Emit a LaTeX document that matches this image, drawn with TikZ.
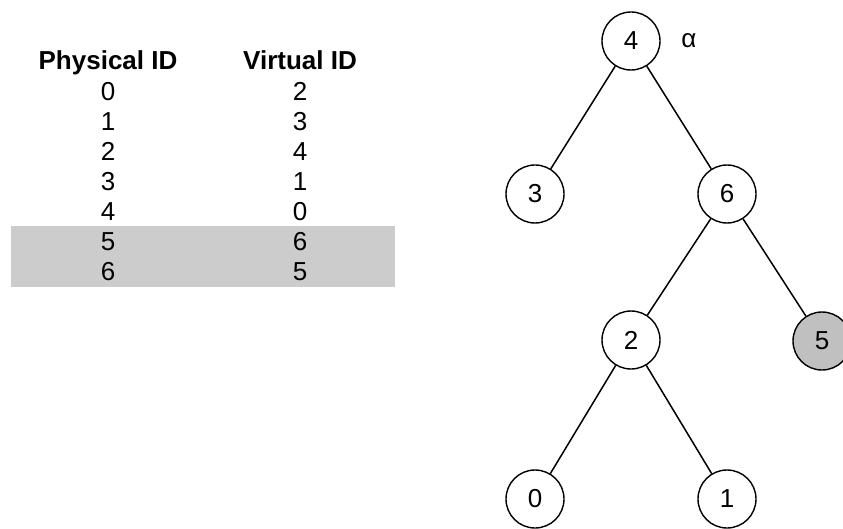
\documentclass[tikz,border=0pt]{standalone}
\usepackage{fontspec}
\setmainfont{Liberation Sans}
\definecolor{bandgray}{HTML}{CCCCCC}
\definecolor{nodegray}{HTML}{C0C0C0}
\newcommand{\tabfont}{\fontsize{26pt}{31pt}\selectfont}
\begin{document}
\begin{tikzpicture}[x=1pt,y=-1pt]
\tikzset{
  vnode/.style={circle, draw, line width=1.4pt, minimum size=58pt, inner sep=0pt, font=\tabfont},
  edge/.style={line width=1.5pt},
  head/.style={anchor=base, inner sep=0pt, font=\tabfont\bfseries},
  cell/.style={anchor=base, inner sep=0pt, font=\tabfont}}
\useasboundingbox (0,0) rectangle (843,529);
% table
\fill[bandgray] (11,226) rectangle (395,287);
\node[head] (hp) at (108,69.5) {Physical ID};
\node[head] (hv) at (300,69.5) {Virtual ID};
\foreach \p/\v [count=\i from 0] in {0/2,1/3,2/4,3/1,4/0,5/6,6/5} {
  \node[cell] (p\i) at (108,{100.5+30*\i}) {\p};
  \node[cell] (v\i) at (300,{100.5+30*\i}) {\v};
}
% tree
\node[vnode] (n4) at (631,41) {4};
\node[vnode] (n3) at (535,194) {3};
\node[vnode] (n6) at (727,194) {6};
\node[vnode] (n2) at (631,340) {2};
\node[vnode, fill=nodegray] (n5) at (822,341) {5};
\node[vnode] (n0) at (535,499) {0};
\node[vnode] (n1) at (727,499) {1};
\node[inner sep=0pt, font=\tabfont] (alpha) at (689,41) {α};
\draw[edge] (n4) -- (n3);
\draw[edge] (n4) -- (n6);
\draw[edge] (n6) -- (n2);
\draw[edge] (n6) -- (n5);
\draw[edge] (n2) -- (n0);
\draw[edge] (n2) -- (n1);
\end{tikzpicture}
\end{document}
